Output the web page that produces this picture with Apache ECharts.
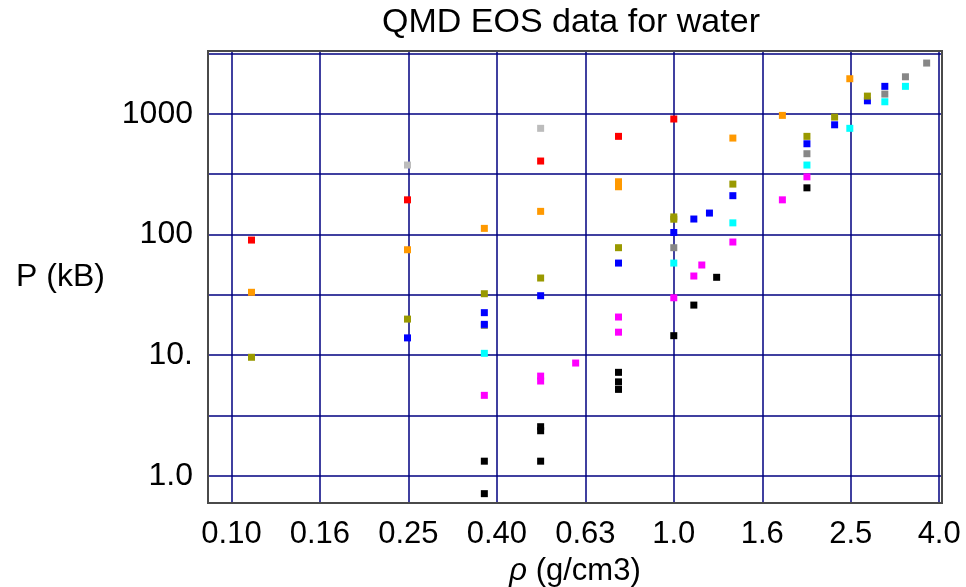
<!DOCTYPE html>
<html>
<head>
<meta charset="utf-8">
<script src="https://cdn.jsdelivr.net/npm/echarts@6/dist/echarts.min.js"></script>
<style>
html,body{margin:0;padding:0;background:#fff;}
#chart{width:966px;height:587px;}
</style>
</head>
<body>
<div id="chart"></div>
<script>
// x tick labels for rho = 10^(0.2k), k = -5..3
const xTickLabels = ['0.10','0.16','0.25','0.40','0.63','1.0','1.6','2.5','4.0'];
// y tick labels for P = 10^n, n = 0..3
const yTickLabels = ['1.0','10.','100','1000'];

// [rho (g/cm3), P (kB)] per series
const silverPts = [[0.25,377],[0.5,760]];
const grayPts = [[0.373,17.6],[1.0,77.8],[2.0,468],[3.0,1462],[3.34,2033],[3.73,2643]];
const redPts = [[0.111,90],[0.25,194],[0.5,407],[0.75,652],[1.0,908]];
const orangePts = [[0.111,33.2],[0.25,74.8],[0.373,112.5],[0.5,155.7],[0.75,274],[0.75,249],[1.36,631],[1.76,973],[2.5,1959]];
const blackPts = [[0.373,1.32],[0.373,0.71],[0.5,2.55],[0.5,2.36],[0.5,1.32],[0.75,7.2],[0.75,6.0],[0.75,5.2],[1.0,14.5],[1.11,26],[1.25,44.2],[2.0,244]];
const magentaPts = [[0.373,4.64],[0.5,6.7],[0.5,6.1],[0.6,8.6],[0.75,20.7],[0.75,15.5],[1.0,29.9],[1.11,45.3],[1.157,55.9],[1.36,86.7],[1.76,194],[2.0,301]];
const cyanPts = [[0.373,10.35],[1.0,58],[1.36,125],[2.0,377],[2.5,760],[3.0,1262],[3.34,1694]];
const bluePts = [[0.25,13.9],[0.373,22.5],[0.373,18.0],[0.5,31.1],[0.75,58],[1.0,104],[1.11,134.5],[1.204,150.7],[1.36,210],[2.0,566],[2.31,813],[2.74,1285],[3.0,1694]];
const olivePts = [[0.111,9.6],[0.25,19.9],[0.373,32.3],[0.5,43.6],[0.75,77.8],[1.0,140],[1.0,134],[1.36,262],[2.0,652],[2.31,942],[2.74,1406]];

const seriesDefs = [
  ['silver', silverPts, '#bcbcbc'],
  ['gray', grayPts, '#878787'],
  ['red', redPts, '#ff0000'],
  ['orange', orangePts, '#ff9900'],
  ['black', blackPts, '#000000'],
  ['magenta', magentaPts, '#ff00ff'],
  ['cyan', cyanPts, '#00ffff'],
  ['blue', bluePts, '#0000ff'],
  ['olive', olivePts, '#999900']
];

const font = '"Liberation Sans", Arial, Helvetica, sans-serif';
const G = {left: 208, right: 24, top: 51, bottom: 84};
const chart = echarts.init(document.getElementById('chart'));
chart.setOption({
  animation: false,
  backgroundColor: '#ffffff',
  title: {
    text: 'QMD EOS data for water',
    left: 566, textAlign: 'center', top: 1,
    textStyle: {fontFamily: font, fontSize: 34, fontWeight: 'normal', color: '#000'}
  },
  grid: {left: G.left, right: G.right, top: G.top, bottom: G.bottom, containLabel: false, outerBoundsMode: 'none'},
  graphic: [{
    type: 'rect', z: 100, silent: true,
    shape: {x: G.left, y: G.top, width: 966 - G.left - G.right, height: 587 - G.top - G.bottom},
    style: {fill: 'none', stroke: '#4a4a4a', lineWidth: 2}
  }],
  xAxis: {
    type: 'log', logBase: Math.pow(10, 0.2), min: 0.0885, max: 4.04, splitNumber: 10,
    name: '{i|ρ} (g/cm3)', nameLocation: 'middle', nameGap: 53,
    nameTextStyle: {fontFamily: font, fontSize: 31, lineHeight: 30, color: '#000', rich: {i: {fontFamily: font, fontSize: 31, lineHeight: 30, fontStyle: 'italic', color: '#000'}}},
    axisLine: {show: false},
    axisTick: {show: false},
    splitLine: {show: true, lineStyle: {color: '#000080', width: 1.5}},
    axisLabel: {
      fontFamily: font, fontSize: 31, color: '#000', margin: 16, showMinLabel: true, showMaxLabel: true,
      formatter: function (v) {
        const k = Math.log10(v) / 0.2;
        if (Math.abs(k - Math.round(k)) > 1e-3) return '';
        const lbl = xTickLabels[Math.round(k) + 5];
        return lbl === undefined ? '' : lbl;
      }
    }
  },
  yAxis: {
    type: 'log', logBase: Math.sqrt(10), min: 0.594, max: 3327, splitNumber: 10,
    name: 'P (kB)', nameLocation: 'middle', nameRotate: 0, nameGap: 103,
    nameTextStyle: {fontFamily: font, fontSize: 32, color: '#000', align: 'right', padding: [0, 0, 20, 0]},
    axisLine: {show: false},
    axisTick: {show: false},
    splitLine: {show: true, lineStyle: {color: '#000080', width: 1.5}},
    axisLabel: {
      fontFamily: font, fontSize: 32, color: '#000', margin: 15, showMinLabel: true, showMaxLabel: true,
      formatter: function (v) {
        const n = Math.log10(v);
        if (Math.abs(n - Math.round(n)) > 1e-3) return '';
        const lbl = yTickLabels[Math.round(n)];
        return lbl === undefined ? '' : lbl;
      }
    }
  },
  series: seriesDefs.map(function (d) {
    return {
      name: d[0], type: 'scatter', data: d[1], symbol: 'rect', symbolSize: 7,
      itemStyle: {color: d[2], opacity: 1}, emphasis: {disabled: true}
    };
  })
});
</script>
</body>
</html>
